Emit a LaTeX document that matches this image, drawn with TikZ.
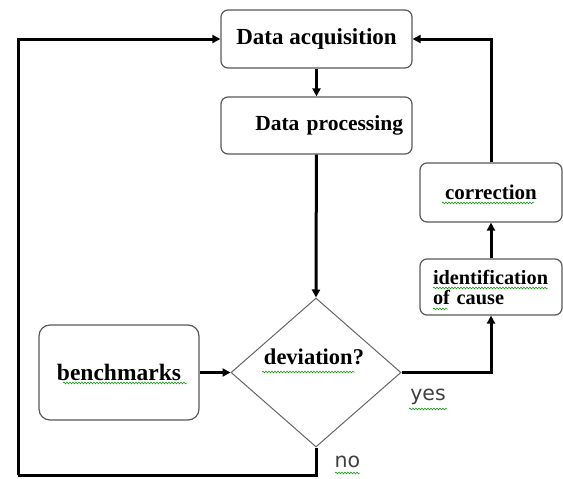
\documentclass[tikz,border=0pt]{standalone}
\usepackage{fontspec}
\setmainfont{Liberation Serif}
\newfontfamily\labelfont{DejaVu Sans}
\usetikzlibrary{shapes.geometric,arrows.meta,decorations.pathmorphing}
\tikzset{
  box/.style={draw=black!65, line width=1.2pt, rounded corners=7pt, fill=white,
    font=\fontsize{22}{24}\selectfont\bfseries, inner sep=0pt},
  decision/.style={draw=black!60, line width=1pt, diamond, inner sep=0pt,
    minimum width=170pt, minimum height=149pt},
  conn/.style={line width=3pt, -{Triangle[length=8pt,width=8pt]}},
  plainconn/.style={line width=3pt},
  answer/.style={font=\labelfont\fontsize{20.5}{22}\selectfont, text=black!75, inner sep=0pt},
  spell/.style={draw=green!55!black, line width=0.5pt,
    decorate, decoration={snake, amplitude=0.9pt, segment length=3pt}}
}
\begin{document}
\begin{tikzpicture}[x=1pt,y=-1pt]
\useasboundingbox (0,0) rectangle (563,479);
% nodes
\node[box, minimum width=191pt, minimum height=58pt, font=\fontsize{23}{25}\selectfont\bfseries] (acq) at (316.5,39) {Data acquisition};
\node[box, minimum width=191pt, minimum height=57pt, text width=173pt, align=right,
      font=\fontsize{21.5}{23}\selectfont\bfseries] (proc) at (316.5,125.5) {Data processing};
\node[box, minimum width=142pt, minimum height=59pt, font=\fontsize{21}{23}\selectfont\bfseries] (corr) at (491,192.5) {correction};
\node[box, minimum width=142pt, minimum height=56pt, text width=116pt, align=left,
      font=\fontsize{20.3}{20}\selectfont\bfseries] (ident) at (491,287) {identification\\of cause};
\node[box, minimum width=160pt, minimum height=95pt, rounded corners=11pt,
      font=\fontsize{23.5}{25}\selectfont\bfseries] (bench) at (119,372.5) {benchmarks};
\node[decision] (dev) at (316,372.5) {};
\node[font=\fontsize{22.5}{24}\selectfont\bfseries, inner sep=0pt] (devtext) at (314,357) {deviation?};
\node[answer] (yes) at (428,397) {yes};
\node[answer] (no) at (347.5,462) {no};
\coordinate (noleft) at (18,475);
% connectors
\draw[conn] (acq) -- (proc);
\draw[conn] (proc) -- (dev.north);
\draw[conn] (bench) -- (dev.west);
\draw[conn] (dev.east) -| (ident.south);
\draw[conn] (ident) -- (corr);
\draw[conn] (corr.north) |- (acq.east);
\draw[plainconn, line join=miter] (dev.south) |- (noleft);
\draw[conn] (noleft) |- (acq.west);
% spell-check underlines
\draw[spell] (442,203) -- (534,203);
\draw[spell] (433,288) -- (548,288);
\draw[spell] (433,309) -- (448,309);
\draw[spell] (63,383) -- (187,383);
\draw[spell] (262,372) -- (355,372);
\draw[spell] (409,409) -- (447,409);
\draw[spell] (335,473) -- (360,473);
\end{tikzpicture}
\end{document}
